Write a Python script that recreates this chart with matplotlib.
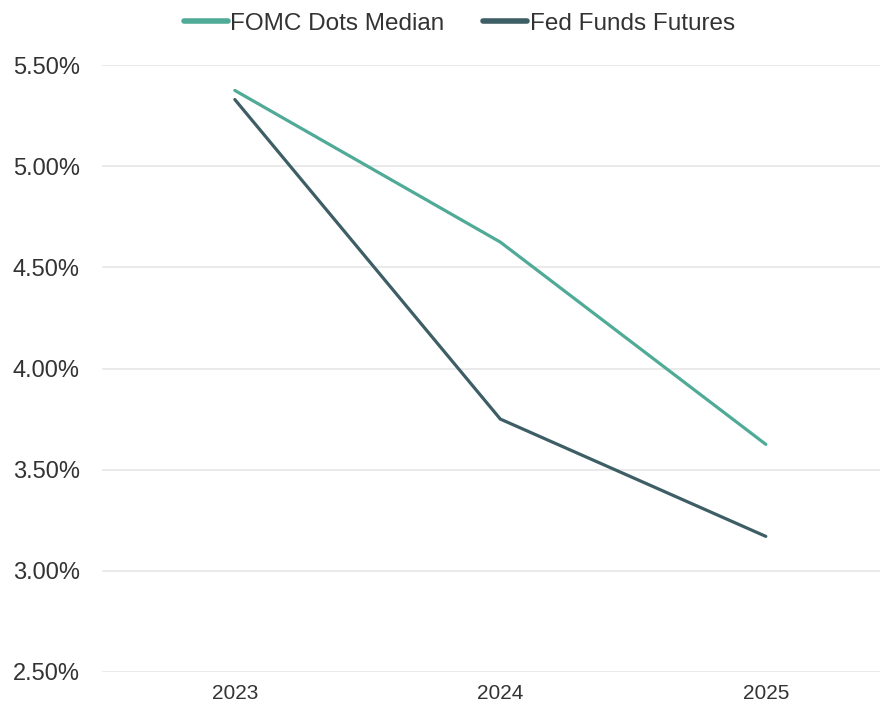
import matplotlib
matplotlib.use("Agg")
import matplotlib.pyplot as plt
import matplotlib.ticker as mticker

# Year-end policy rate paths (%)
years = ["2023", "2024", "2025"]
fomc_dots = [5.375, 4.625, 3.625]
fed_funds_futures = [5.33, 3.75, 3.17]
y_ticks = [2.5, 3.0, 3.5, 4.0, 4.5, 5.0, 5.5]

plt.rcParams["font.family"] = ["Liberation Sans", "DejaVu Sans"]

c_fomc = "#4fab97"
c_futures = "#3e5e66"
c_text = "#333333"

fig = plt.figure(figsize=(8.8, 7.08), dpi=100)
ax = fig.add_axes([0.116, 0.051, 0.884, 0.857])

x = range(len(years))
ax.plot(x, fomc_dots, color=c_fomc, linewidth=2.3, label="FOMC Dots Median",
        solid_capstyle="round", zorder=3)
ax.plot(x, fed_funds_futures, color=c_futures, linewidth=2.3, label="Fed Funds Futures",
        solid_capstyle="round", zorder=3)

ax.set_xlim(-0.5, 2.43)
ax.set_ylim(2.5, 5.5)
ax.set_xticks(list(x))
ax.set_xticklabels(years)
ax.set_yticks(y_ticks)
ax.yaxis.set_major_formatter(mticker.FuncFormatter(lambda v, _: f"{v:.2f}%"))

ax.grid(axis="y", color="#e6e6e6", linewidth=1.2, zorder=0)
ax.set_axisbelow(True)
for s in ax.spines.values():
    s.set_visible(False)

ax.tick_params(axis="both", length=0, colors=c_text)
ax.tick_params(axis="y", labelsize=17, pad=16)
ax.tick_params(axis="x", labelsize=15, pad=9)

leg = fig.legend(loc="upper center", bbox_to_anchor=(0.522, 1.013), ncol=2,
                 frameon=False, fontsize=17.5, handlelength=1.8,
                 handletextpad=0.1, columnspacing=1.6)
for t in leg.get_texts():
    t.set_color(c_text)
for h in leg.get_lines():
    h.set_linewidth(4)

fig.savefig("out.png", dpi=100, facecolor="white")
